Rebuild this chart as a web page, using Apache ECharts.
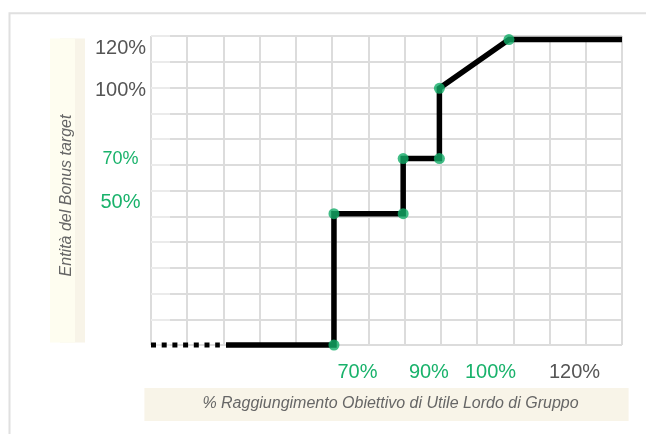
<!DOCTYPE html>
<html>
<head>
<meta charset="utf-8">
<script src="https://cdn.jsdelivr.net/npm/echarts@6/dist/echarts.min.js"></script>
<style>
html,body{margin:0;padding:0;background:#fff;}
#bonusChart{width:646px;height:434px;}
</style>
</head>
<body>
<div id="bonusChart"></div>
<script>
// punti della curva (unità di griglia: 13 colonne x 12 righe)
var leadIn = [[0, 0], [1.9, 0]];
var curvePoints = [[2.07, 0], [5.05, 0], [5.05, 5.1], [6.96, 5.1], [6.96, 7.24],
    [7.96, 7.24], [7.96, 9.97], [9.88, 11.86], [13, 11.86]];
var knotPoints = [[5.05, 0], [5.05, 5.1], [6.96, 5.1], [6.96, 7.24],
    [7.96, 7.24], [7.96, 9.97], [9.88, 11.86]];

// etichette assi
var xLabelAt = [5.7, 7.67, 9.37, 11.69];
var xLabelText = ['70%', '90%', '100%', '120%'];
var xLabelStyle = ['g', 'g', 'g', 'k'];
var yLabelAt = [11.52, 9.87, 7.21, 5.52];
var yLabelText = ['120%', '100%', '70%', '50%'];
var yLabelStyle = ['k', 'k', 'gs', 'g'];

var GREEN = '#19b26b';
var DOT = '#12ad68';
var FONT = '"Liberation Sans", Arial, sans-serif';

function labelFormatter(at, text, style) {
    return function (v) {
        for (var i = 0; i < at.length; i++) {
            if (Math.abs(at[i] - v) < 1e-6) {
                return '{' + style[i] + '|' + text[i] + '}';
            }
        }
        return '';
    };
}

var richStyles = {
    g: {color: GREEN, fontSize: 20, fontFamily: FONT},
    gs: {color: GREEN, fontSize: 18, fontFamily: FONT},
    k: {color: '#555', fontSize: 20, fontFamily: FONT}
};

function bonusChart() {
    var myChart = echarts.init(document.getElementById('bonusChart'));
    var option = {
        animation: false,
        grid: {left: 151, right: 24, top: 36, bottom: 89},
        graphic: [{
            type: 'rect',
            shape: {x: 9.5, y: 13.3, width: 700, height: 500},
            style: {fill: 'none', stroke: '#e0e0e0', lineWidth: 2},
            silent: true
        }],
        xAxis: {
            type: 'value',
            min: 0, max: 13, interval: 1,
            axisLine: {show: false},
            axisTick: {show: false},
            splitLine: {lineStyle: {color: '#dcdcdc', width: 2}},
            axisLabel: {
                customValues: xLabelAt,
                margin: 17,
                formatter: labelFormatter(xLabelAt, xLabelText, xLabelStyle),
                rich: richStyles
            },
            name: '% Raggiungimento Obiettivo di Utile Lordo di Gruppo',
            nameLocation: 'middle',
            nameGap: 43,
            nameTextStyle: {
                fontFamily: FONT, fontSize: 16, fontStyle: 'italic', color: '#666',
                backgroundColor: '#f8f4e8',
                padding: [8, 50, 9, 58]
            }
        },
        yAxis: {
            type: 'value',
            min: 0, max: 12, interval: 1,
            axisLine: {show: false},
            axisTick: {show: true, inside: true, length: 19, lineStyle: {color: '#ebebeb', width: 2}},
            splitLine: {lineStyle: {color: '#dcdcdc', width: 2}},
            axisLabel: {
                customValues: yLabelAt,
                align: 'center',
                margin: 30.5,
                formatter: labelFormatter(yLabelAt, yLabelText, yLabelStyle),
                rich: richStyles
            },
            name: 'Entità del Bonus target',
            nameLocation: 'middle',
            nameRotate: 90,
            nameGap: 76,
            nameTextStyle: {
                fontFamily: FONT, fontSize: 16, fontStyle: 'italic', color: '#666',
                backgroundColor: '#fefdf0',
                padding: [9, 76, 0, 66],
                shadowColor: '#f8f4e8',
                shadowOffsetX: 10,
                shadowBlur: 0
            }
        },
        series: [{
            type: 'line',
            data: leadIn,
            clip: false,
            symbol: 'none',
            lineStyle: {color: '#000', width: 5, type: [5, 5.7], cap: 'butt'}
        }, {
            type: 'line',
            data: curvePoints,
            clip: false,
            symbol: 'none',
            lineStyle: {color: '#000', width: 5.5, join: 'miter', cap: 'butt'}
        }, {
            type: 'scatter',
            data: knotPoints,
            clip: false,
            z: 5,
            symbolSize: 11,
            itemStyle: {color: DOT}
        }]
    };
    myChart.setOption(option);
}
bonusChart();
</script>
</body>
</html>
